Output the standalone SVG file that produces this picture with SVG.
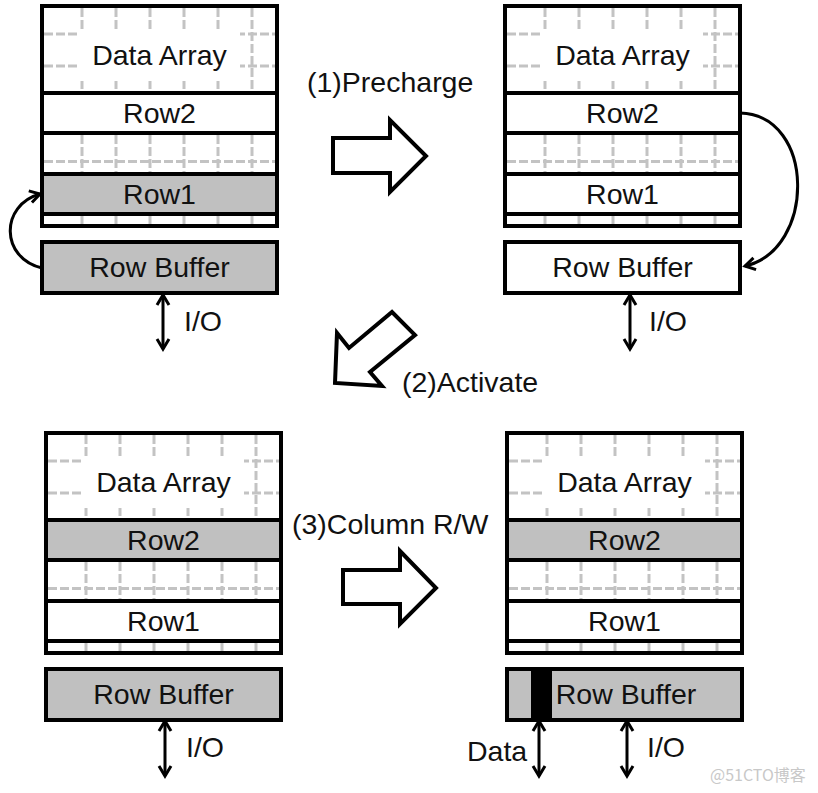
<svg xmlns="http://www.w3.org/2000/svg" width="818" height="793" viewBox="0 0 818 793">
<defs>
<style>
.bg{fill:#fff}
.frame{fill:none;stroke:#000;stroke-width:4}
.row-w{fill:#fff;stroke:#000;stroke-width:4}
.row-g{fill:#c0c0c0;stroke:#000;stroke-width:4}
.grid line{stroke:#c3c3c3;stroke-width:3;stroke-dasharray:9 3}
.mask{fill:#fff}
.lbl{font-family:"Liberation Sans",Arial,sans-serif;font-size:28.5px;fill:#111;text-anchor:middle}
.cap{font-family:"Liberation Sans",Arial,sans-serif;font-size:28.5px;fill:#111}
.conn{fill:none;stroke:#000;stroke-width:3}
.blk{fill:#fff;stroke:#000;stroke-width:4;stroke-linejoin:miter}
.wm{font-family:"Noto Sans CJK SC",sans-serif;font-size:16px;fill:#c8c8c8}
</style>
<marker id="chev" viewBox="0 0 16 16" refX="13" refY="8" markerWidth="16" markerHeight="16" markerUnits="userSpaceOnUse" orient="auto-start-reverse">
<path d="M3,2 L13,8 L3,14" fill="none" stroke="#000" stroke-width="3"/>
</marker>
<g id="grid" class="grid">
<rect class="bg" x="0" y="0" width="235" height="220"/>
<line x1="40" y1="2" x2="40" y2="86"/><line x1="74" y1="2" x2="74" y2="86"/><line x1="108" y1="2" x2="108" y2="86"/><line x1="142" y1="2" x2="142" y2="86"/><line x1="176" y1="2" x2="176" y2="86"/><line x1="210" y1="2" x2="210" y2="86"/>
<line x1="2" y1="28" x2="233" y2="28"/><line x1="2" y1="60" x2="233" y2="60"/>
<rect class="mask" x="35" y="23" width="163" height="52"/>
<line x1="40" y1="129" x2="40" y2="166"/><line x1="74" y1="129" x2="74" y2="166"/><line x1="108" y1="129" x2="108" y2="166"/><line x1="142" y1="129" x2="142" y2="166"/><line x1="176" y1="129" x2="176" y2="166"/><line x1="210" y1="129" x2="210" y2="166"/>
<line x1="2" y1="155.5" x2="233" y2="155.5"/>
<line x1="40" y1="210" x2="40" y2="218"/><line x1="74" y1="210" x2="74" y2="218"/><line x1="108" y1="210" x2="108" y2="218"/><line x1="142" y1="210" x2="142" y2="218"/><line x1="176" y1="210" x2="176" y2="218"/><line x1="210" y1="210" x2="210" y2="218"/>
</g>
</defs>
<rect x="0" y="0" width="818" height="793" fill="#fff"/>

<!-- Panel 1 -->
<g id="panel1" transform="translate(42,6)">
<g id="p1-array"><use href="#grid"/><text class="lbl" x="117.5" y="59">Data Array</text></g>
<g id="p1-row2"><rect class="row-w" x="0" y="87" width="235" height="40"/><text class="lbl" x="117.5" y="117">Row2</text></g>
<g id="p1-row1"><rect class="row-g" x="0" y="168" width="235" height="40"/><text class="lbl" x="117.5" y="198">Row1</text></g>
<rect class="frame" x="0" y="0" width="235" height="220"/>
<g id="p1-buffer"><rect class="row-g" x="0" y="236" width="235" height="51"/><text class="lbl" x="117.5" y="271">Row Buffer</text></g>
</g>

<!-- Panel 2 -->
<g id="panel2" transform="translate(505,6)">
<g id="p2-array"><use href="#grid"/><text class="lbl" x="117.5" y="59">Data Array</text></g>
<g id="p2-row2"><rect class="row-w" x="0" y="87" width="235" height="40"/><text class="lbl" x="117.5" y="117">Row2</text></g>
<g id="p2-row1"><rect class="row-w" x="0" y="168" width="235" height="40"/><text class="lbl" x="117.5" y="198">Row1</text></g>
<rect class="frame" x="0" y="0" width="235" height="220"/>
<g id="p2-buffer"><rect class="row-w" x="0" y="236" width="235" height="51"/><text class="lbl" x="117.5" y="271">Row Buffer</text></g>
</g>

<!-- Panel 3 -->
<g id="panel3" transform="translate(46,433)">
<g id="p3-array"><use href="#grid"/><text class="lbl" x="117.5" y="59">Data Array</text></g>
<g id="p3-row2"><rect class="row-g" x="0" y="87" width="235" height="40"/><text class="lbl" x="117.5" y="117">Row2</text></g>
<g id="p3-row1"><rect class="row-w" x="0" y="168" width="235" height="40"/><text class="lbl" x="117.5" y="198">Row1</text></g>
<rect class="frame" x="0" y="0" width="235" height="220"/>
<g id="p3-buffer"><rect class="row-g" x="0" y="236" width="235" height="51"/><text class="lbl" x="117.5" y="271">Row Buffer</text></g>
</g>

<!-- Panel 4 -->
<g id="panel4" transform="translate(507,433)">
<g id="p4-array"><use href="#grid"/><text class="lbl" x="117.5" y="59">Data Array</text></g>
<g id="p4-row2"><rect class="row-g" x="0" y="87" width="235" height="40"/><text class="lbl" x="117.5" y="117">Row2</text></g>
<g id="p4-row1"><rect class="row-w" x="0" y="168" width="235" height="40"/><text class="lbl" x="117.5" y="198">Row1</text></g>
<rect class="frame" x="0" y="0" width="235" height="220"/>
<g id="p4-buffer"><rect class="row-g" x="0" y="236" width="235" height="51"/><rect x="24" y="236" width="21" height="51" fill="#000"/><text class="lbl" x="119" y="271">Row Buffer</text></g>
</g>

<!-- Connectors -->
<g id="connectors">
<path class="conn" d="M42,268 C0,258 0,205 40,194" marker-end="url(#chev)"/>
<path class="conn" d="M740,113 C816,115 816,250 745,266" marker-end="url(#chev)"/>
<line class="conn" x1="163" y1="295" x2="163" y2="349" marker-start="url(#chev)" marker-end="url(#chev)"/>
<line class="conn" x1="630" y1="295" x2="630" y2="349" marker-start="url(#chev)" marker-end="url(#chev)"/>
<line class="conn" x1="165" y1="721" x2="165" y2="776" marker-start="url(#chev)" marker-end="url(#chev)"/>
<line class="conn" x1="627" y1="721" x2="627" y2="776" marker-start="url(#chev)" marker-end="url(#chev)"/>
<line class="conn" x1="539" y1="721" x2="539" y2="776" marker-start="url(#chev)" marker-end="url(#chev)"/>
<polygon class="blk" points="333,138 390,138 390,120 426,156 390,192 390,173 333,173"/>
<polygon class="blk" points="335,383 337,333 349,348 392,312 415,335 370,372 382,386"/>
<polygon class="blk" points="343,570 400,570 400,551 436,588 400,624 400,604 343,604"/>
</g>

<!-- Labels -->
<g id="labels">
<text class="cap" x="307" y="92">(1)Precharge</text>
<text class="cap" x="402" y="392">(2)Activate</text>
<text class="cap" x="292" y="534">(3)Column R/W</text>
<text class="cap" x="184" y="331">I/O</text>
<text class="cap" x="649" y="331">I/O</text>
<text class="cap" x="186" y="757">I/O</text>
<text class="cap" x="647" y="757">I/O</text>
<text class="cap" x="467" y="761">Data</text>
<text class="wm" x="710" y="781">@51CTO博客</text>
</g>
</svg>
